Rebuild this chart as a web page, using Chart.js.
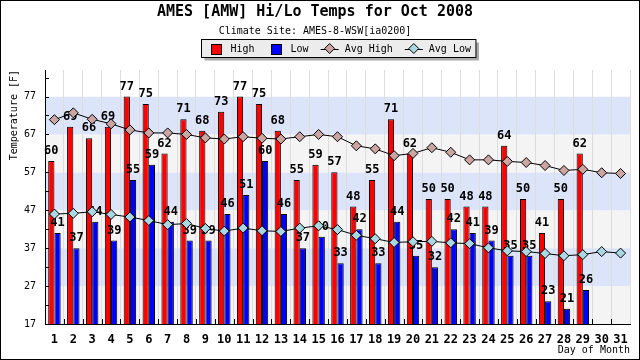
<!DOCTYPE html>
<html>
<head>
<meta charset="utf-8">
<script src="https://cdn.jsdelivr.net/npm/chart.js@4/dist/chart.umd.min.js"></script>
<style>
  html, body { margin: 0; padding: 0; background: #fff; }
  canvas { display: block; }
</style>
</head>
<body>
<canvas id="tempChart" width="640" height="360"></canvas>
<script>
// Ames daily highs / lows, October 2008
const days = ['1','2','3','4','5','6','7','8','9','10','11','12','13','14','15','16',
  '17','18','19','20','21','22','23','24','25','26','27','28','29','30','31'];
const highs = [60, 69, 66, 69, 77, 75, 62, 71, 68, 73, 77, 75, 68, 55, 59, 57,
  48, 55, 71, 62, 50, 50, 48, 48, 64, 50, 41, 50, 62, null, null];
const lows = [41, 37, 44, 39, 55, 59, 44, 39, 39, 46, 51, 60, 46, 37, 40, 33,
  42, 33, 44, 35, 32, 42, 41, 39, 35, 35, 23, 21, 26, null, null];
const avgHighs = [70.9, 72.7, 71.0, 69.8, 68.2, 67.4, 67.4, 67.0, 66.1, 65.8, 66.4, 66.0, 65.8, 66.4, 67.0, 66.4,
  64.0, 63.2, 61.4, 62.0, 63.5, 62.3, 60.3, 60.3, 59.9, 59.6, 58.8, 57.5, 57.8, 56.9, 56.7];
const avgLows = [46.0, 46.2, 46.6, 45.9, 45.2, 44.3, 43.2, 43.5, 42.2, 41.5, 42.3, 41.6, 41.4, 42.3, 42.9, 41.9,
  40.4, 39.5, 38.5, 38.7, 38.8, 38.4, 38.2, 37.1, 36.3, 36.1, 35.6, 35.0, 35.3, 36.1, 35.7];
const yTicks = [17, 27, 37, 47, 57, 67, 77];
const yMin = 17;
const yMax = 84;
const bandEdges = [17, 27, 37, 47, 57, 67, 77, 84];
const bandColors = ['#f4f4f4', '#dce4fa', '#f4f4f4', '#dce4fa', '#f4f4f4', '#dce4fa', '#ffffff'];

const MONO = '"DejaVu Sans Mono", monospace';

// background bands behind the grid
const bandsPlugin = {
  id: 'bands',
  beforeDraw(chart) {
    const { ctx, chartArea: a, scales: { y } } = chart;
    ctx.save();
    for (let i = 0; i < bandColors.length; i++) {
      const top = y.getPixelForValue(bandEdges[i + 1]);
      const bot = y.getPixelForValue(bandEdges[i]);
      ctx.fillStyle = bandColors[i];
      ctx.fillRect(a.left, top, a.right - a.left, bot - top);
    }
    ctx.restore();
  }
};

// value labels over the bars, drawn once both bar sets are down (before the lines)
const barLabelsPlugin = {
  id: 'barLabels',
  afterDatasetDraw(chart, args) {
    if (args.index !== 0) return;
    const { ctx } = chart;
    ctx.save();
    ctx.font = 'bold 12px ' + MONO;
    ctx.fillStyle = '#000';
    ctx.textAlign = 'center';
    ctx.textBaseline = 'middle';
    [0, 1].forEach(di => {
      const vals = chart.data.datasets[di].data;
      chart.getDatasetMeta(di).data.forEach((bar, j) => {
        if (vals[j] == null) return;
        ctx.fillText(String(vals[j]), bar.x, bar.y - 10);
      });
    });
    ctx.restore();
  }
};

// inward tick marks, legend box and outer frame
const decorPlugin = {
  id: 'decor',
  afterDatasetsDraw(chart) {
    const { ctx, chartArea: a, scales: { x, y } } = chart;
    ctx.save();
    ctx.strokeStyle = '#000';
    ctx.lineWidth = 1;
    ctx.beginPath();
    for (let v = yMin; v <= yMax; v += 5) {
      const py = Math.round(y.getPixelForValue(v)) + 0.5;
      ctx.moveTo(a.left, py);
      ctx.lineTo(a.left + 4, py);
    }
    const half = (x.getPixelForValue(1) - x.getPixelForValue(0)) / 2;
    for (let i = 0; i < days.length - 1; i++) {
      const px = Math.round(x.getPixelForValue(i) + half) + 0.5;
      ctx.moveTo(px, a.bottom);
      ctx.lineTo(px, a.bottom - 5);
    }
    ctx.stroke();
    ctx.restore();
  },
  afterDraw(chart) {
    const { ctx, chartArea: a } = chart;
    const sets = chart.data.datasets;
    ctx.save();
    ctx.font = '10px ' + MONO;
    const iconW = 18, gap = 6, itemGap = 12, pad = 5;
    const widths = sets.map(d => iconW + gap + ctx.measureText(d.label).width);
    const total = widths.reduce((s, w) => s + w, 0) + itemGap * (sets.length - 1);
    const boxW = total + pad * 2, boxH = 18;
    const bx = Math.round((a.left + a.right) / 2 - boxW / 2 + 1) + 0.5;
    const by = 39.5;
    ctx.fillStyle = '#aaaaaa';
    ctx.fillRect(bx + 3, by + 3, boxW, boxH);
    ctx.fillStyle = '#ececec';
    ctx.fillRect(bx, by, boxW, boxH);
    ctx.strokeStyle = '#000';
    ctx.lineWidth = 1;
    ctx.strokeRect(bx, by, boxW, boxH);
    let cx = bx + pad;
    const cy = by + boxH / 2;
    sets.forEach((d, i) => {
      const mid = cx + iconW / 2;
      if (d.type === 'line') {
        ctx.beginPath();
        ctx.moveTo(cx, Math.round(cy) + 0.5);
        ctx.lineTo(cx + iconW, Math.round(cy) + 0.5);
        ctx.stroke();
        ctx.beginPath();
        ctx.moveTo(mid - 5, cy); ctx.lineTo(mid, cy - 5);
        ctx.lineTo(mid + 5, cy); ctx.lineTo(mid, cy + 5);
        ctx.closePath();
        ctx.fillStyle = d.pointBackgroundColor;
        ctx.fill();
        ctx.stroke();
      } else {
        ctx.fillStyle = d.backgroundColor;
        ctx.fillRect(Math.round(mid - 5) + 0.5, Math.round(cy - 5) + 0.5, 10, 10);
        ctx.strokeRect(Math.round(mid - 5) + 0.5, Math.round(cy - 5) + 0.5, 10, 10);
      }
      ctx.fillStyle = '#000';
      ctx.textBaseline = 'middle';
      ctx.fillText(d.label, cx + iconW + gap, cy + 0.5);
      cx += widths[i] + itemGap;
    });
    ctx.strokeRect(0.5, 0.5, chart.width - 1, chart.height - 1);
    ctx.restore();
  }
};

new Chart(document.getElementById('tempChart'), {
  type: 'bar',
  data: {
    labels: days,
    datasets: [
      {
        label: 'High',
        data: highs,
        backgroundColor: '#ff0000',
        borderColor: '#000',
        borderWidth: 1,
        categoryPercentage: 0.66,
        barPercentage: 1.0,
        order: 2
      },
      {
        label: 'Low',
        data: lows,
        backgroundColor: '#0000ff',
        borderColor: '#000',
        borderWidth: 1,
        categoryPercentage: 0.66,
        barPercentage: 1.0,
        order: 3
      },
      {
        type: 'line',
        label: 'Avg High',
        data: avgHighs,
        borderColor: '#000',
        borderWidth: 1,
        pointStyle: 'rectRot',
        pointRadius: 5,
        pointBackgroundColor: '#cba5a1',
        pointBorderColor: '#000',
        pointBorderWidth: 1,
        tension: 0,
        order: 1
      },
      {
        type: 'line',
        label: 'Avg Low',
        data: avgLows,
        borderColor: '#000',
        borderWidth: 1,
        pointStyle: 'rectRot',
        pointRadius: 5,
        pointBackgroundColor: '#a9d8e2',
        pointBorderColor: '#000',
        pointBorderWidth: 1,
        tension: 0,
        order: 0
      }
    ]
  },
  options: {
    responsive: false,
    devicePixelRatio: 1,
    animation: false,
    layout: { padding: { top: 0, right: 10, bottom: 0, left: 0 } },
    plugins: {
      legend: { display: false },
      tooltip: { enabled: false },
      title: {
        display: true,
        text: 'AMES [AMW] Hi/Lo Temps for Oct 2008',
        color: '#000',
        font: { family: MONO, size: 15, weight: 'bold' },
        padding: { top: 3, bottom: 0 }
      },
      subtitle: {
        display: true,
        text: 'Climate Site: AMES-8-WSW[ia0200]',
        color: '#000',
        font: { family: MONO, size: 10 },
        padding: { top: 4, bottom: 33 }
      }
    },
    scales: {
      x: {
        offset: true,
        grid: { display: true, color: '#dddddd', offset: true, drawTicks: false },
        border: { display: true, color: '#000' },
        ticks: {
          color: '#000',
          padding: 9,
          maxRotation: 0,
          autoSkip: false,
          font: { family: MONO, size: 12, weight: 'bold' }
        },
        title: {
          display: true,
          text: 'Day of Month',
          align: 'end',
          color: '#000',
          font: { family: MONO, size: 10 },
          padding: { top: 0, bottom: 4 }
        },
        afterFit(scale) { scale.height = 36; }
      },
      y: {
        min: yMin,
        max: yMax,
        grid: { display: false, drawTicks: false },
        border: { display: true, color: '#000' },
        ticks: {
          color: '#000',
          padding: 9,
          font: { family: MONO, size: 10 }
        },
        title: {
          display: true,
          text: 'Temperature [F]',
          align: 'end',
          color: '#000',
          font: { family: MONO, size: 10 },
          padding: { top: 8, bottom: 0 }
        },
        afterBuildTicks(scale) { scale.ticks = yTicks.map(v => ({ value: v })); },
        afterFit(scale) { scale.width = 45; }
      }
    }
  },
  plugins: [bandsPlugin, barLabelsPlugin, decorPlugin]
});
</script>
</body>
</html>
